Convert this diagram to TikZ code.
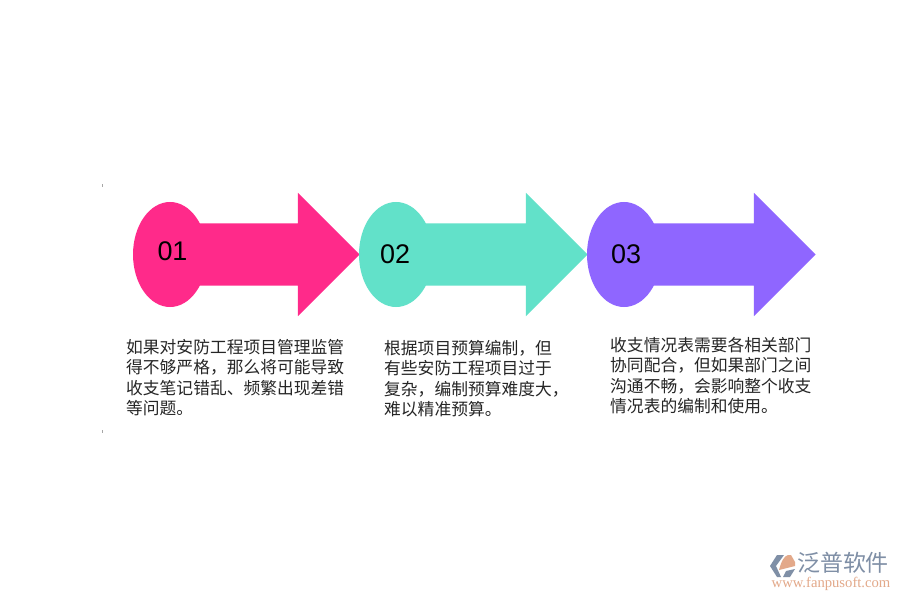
\documentclass[tikz,border=0pt]{standalone}
\usepackage{fontspec}
\setmainfont{Liberation Sans}
\newfontfamily\cjk{Noto Sans CJK SC}
\newfontfamily\logoserif{Liberation Serif}
\usetikzlibrary{shapes.arrows, shapes.geometric}
\definecolor{rose}{HTML}{FF2A8A}
\definecolor{mint}{HTML}{62E1C9}
\definecolor{violet}{HTML}{8F66FF}
\definecolor{logoblue}{HTML}{7F8FA6}
\definecolor{logoorange}{HTML}{E3A98A}
\begin{document}
\begin{tikzpicture}[x=0.03cm, y=-0.03cm]
\tikzstyle{badge} = [ellipse, minimum width=2.22cm, minimum height=3.15cm, inner sep=0pt]
\tikzstyle{pointer} = [single arrow, minimum width=3.69cm, minimum height=5.1cm, inner sep=0pt,
  text height=1.86cm, text width=0pt, single arrow head extend=0.915cm, single arrow head indent=0pt, anchor=tip]
\tikzstyle{number} = [font=\fontsize{23}{28}\selectfont, text=black, inner sep=0pt]
\tikzstyle{note} = [font=\cjk\fontsize{14.3}{17.5}\selectfont, text=black!85, align=left, anchor=north west, inner sep=0pt]

\useasboundingbox (0, 0) rectangle (900, 600);
\fill [white] (0, 0) rectangle (900, 600);

\node (A1) [pointer, fill=rose] at (360, 254.5) {};
\node (B1) [badge, fill=rose] at (170, 254.5) {};
\node (A2) [pointer, fill=mint] at (588, 254.5) {};
\node (B2) [badge, fill=mint] at (396, 254.5) {};
\node (A3) [pointer, fill=violet] at (816, 254.5) {};
\node (B3) [badge, fill=violet] at (624, 254.5) {};

\node (N1) [number] at (172.5, 251) {01};
\node (N2) [number] at (395, 254) {02};
\node (N3) [number] at (626, 254) {03};

\node (T1) [note] at (126, 339) {如果对安防工程项目管理监管\\得不够严格，那么将可能导致\\收支笔记错乱、频繁出现差错\\等问题。};
\node (T2) [note] at (384, 340) {根据项目预算编制，但\\有些安防工程项目过于\\复杂，编制预算难度大，\\难以精准预算。};
\node (T3) [note] at (610, 337) {收支情况表需要各相关部门\\协同配合，但如果部门之间\\沟通不畅，会影响整个收支\\情况表的编制和使用。};

% logo
\fill [logoblue] (770, 566) -- (777, 555) -- (784, 555) -- (776, 566) -- (781, 577) -- (777, 577) -- cycle;
\fill [logoorange] (779, 570) .. controls (781, 562) and (784, 556) .. (788, 555) -- (791, 555) -- (795, 562) -- (795, 566) -- cycle;
\fill [logoblue] (786, 571) -- (795, 569) -- (790, 577) -- (783, 577) -- cycle;
\node (L1) [font=\cjk\fontsize{19.6}{22}\selectfont, text=logoblue, inner sep=0pt] at (843, 563) {泛普软件};
\node (L2) [font=\logoserif\fontsize{12.5}{14}\selectfont, text=logoorange, inner sep=0pt] at (831, 584) {www.fanpusoft.com};

% specks at the left margin
\fill [black!35] (102, 184) rectangle (102.7, 187);
\fill [black!35] (102, 430) rectangle (102.7, 433);
\end{tikzpicture}
\end{document}
